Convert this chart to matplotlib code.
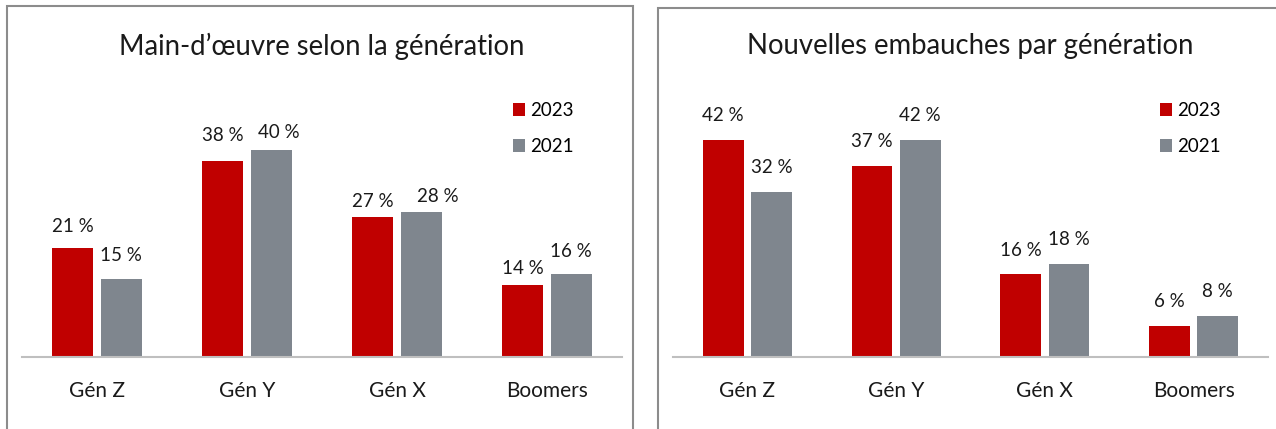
import numpy as np
import matplotlib
matplotlib.use('Agg')
import matplotlib.pyplot as plt
from matplotlib.patches import Rectangle

plt.rcParams['font.family'] = ['Lato', 'DejaVu Sans']

# données
generations = ['Gén Z', 'Gén Y', 'Gén X', 'Boomers']
annees = ['2023', '2021']
main_oeuvre_2023 = [21, 38, 27, 14]
main_oeuvre_2021 = [15, 40, 28, 16]
embauches_2023 = [42, 37, 16, 6]
embauches_2021 = [32, 42, 18, 8]
titres = ['Main-d\u2019\u0153uvre selon la génération', 'Nouvelles embauches par génération']

ROUGE = '#C00000'
GRIS = '#7F868E'

W, H = 1276, 429
fig = plt.figure(figsize=(W / 100, H / 100), dpi=100)

def fx(px):
    return px / W

def fy(py):
    return 1 - py / H

# cadres des deux graphiques
for x0, x1, y0 in [(7, 633, 6), (658, 1290, 7.5)]:
    fig.patches.append(Rectangle((fx(x0), fy(440)), fx(x1 - x0), (440 - y0) / H,
                                 transform=fig.transFigure, fill=False,
                                 edgecolor='#8c8c8c', linewidth=1.5))

# petits decalages des etiquettes (px) pour le graphique de gauche
decal_g = [[(0, -2), (0, 0)], [(0, 1), (8, -6)], [(0, -8), (17, -8)], [(0, -8), (0, -1)]]
decal_d = [[(0, 0), (0, 0)] for _ in range(4)]

def graphique(x_left, x_right, v23, v21, titre, decal, leg_x):
    base = 357
    haut = 97
    ax = fig.add_axes([fx(x_left), fy(base), fx(x_right - x_left), (base - haut) / H])
    x = np.arange(len(generations))
    larg = 0.273
    b1 = ax.bar(x - 0.162, v23, larg, color=ROUGE, label=annees[0])
    b2 = ax.bar(x + 0.162, v21, larg, color=GRIS, label=annees[1])
    ax.set_xlim(-0.5, 3.5)
    ax.set_ylim(0, (base - haut) / 5.17)
    for j, barres in enumerate([b1, b2]):
        for i, b in enumerate(barres):
            dx, dy = decal[i][j]
            ax.annotate(f'{b.get_height():.0f} %',
                        (b.get_x() + b.get_width() / 2, b.get_height()),
                        xytext=((dx) * 0.72, (24 + dy) * 0.72), textcoords='offset points',
                        ha='center', va='center', fontsize=13.5, color='#1a1a1a')
    for s in ['top', 'left', 'right']:
        ax.spines[s].set_visible(False)
    ax.spines['bottom'].set_color('#bfbfbf')
    ax.spines['bottom'].set_linewidth(1.5)
    ax.set_yticks([])
    ax.set_xticks(x)
    ax.set_xticklabels(generations, fontsize=15, color='#1a1a1a')
    ax.tick_params(axis='x', length=0, pad=17)
    ax.set_title(titre, fontsize=19.8, color='#1a1a1a', pad=0, y=(base - 46) / (base - haut), va='center')
    ax.legend(loc='upper left', bbox_to_anchor=(leg_x, (base - 102) / (base - haut)),
              frameon=False, fontsize=13.5, handlelength=0.65, handleheight=0.65,
              handletextpad=0.25, labelspacing=1.03, borderpad=0, borderaxespad=0)
    return ax

graphique(22, 622, main_oeuvre_2023, main_oeuvre_2021, titres[0], decal_g, (513 - 22) / 600)
graphique(673, 1268, embauches_2023, embauches_2021, titres[1], decal_d, (1160 - 673) / 595)

fig.savefig('out.png', dpi=100)
